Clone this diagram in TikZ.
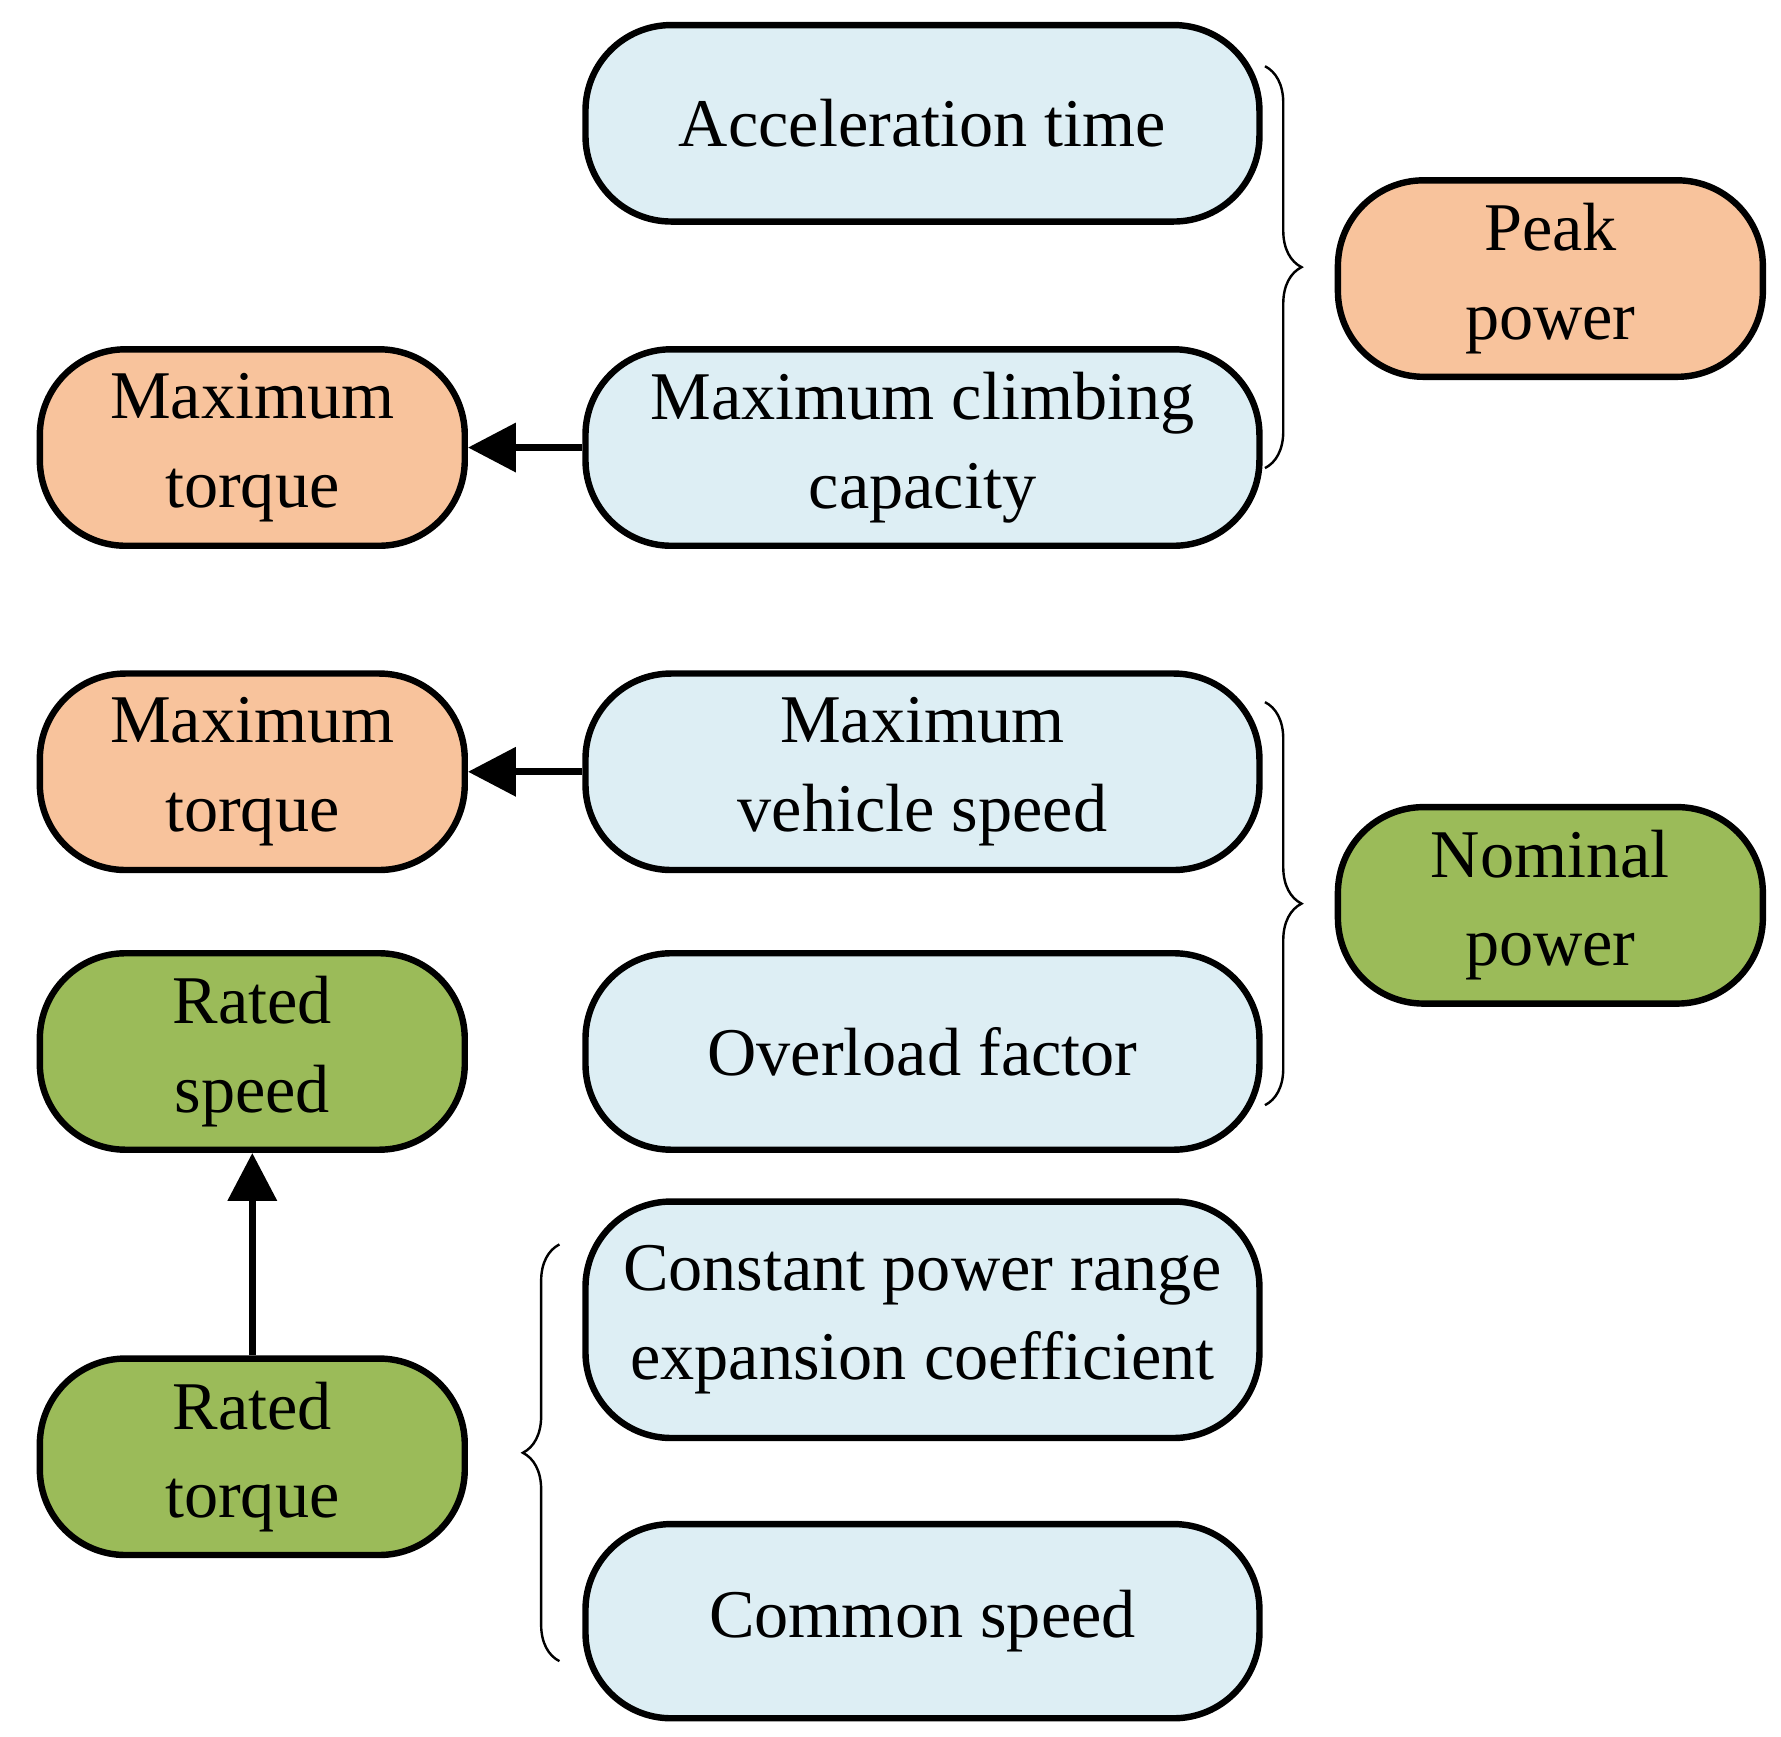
\documentclass[tikz,border=0pt]{standalone}
\usepackage{fontspec}
\setmainfont{Liberation Serif}
\usetikzlibrary{decorations.pathreplacing,arrows.meta}
\definecolor{blue1}{HTML}{DDEEF4}
\definecolor{orange1}{HTML}{F8C39C}
\definecolor{green1}{HTML}{9BBB59}
\tikzset{
    box/.style={draw, line width=1.6pt, rounded corners=0.75cm, align=center,
        font=\fontsize{17}{22}\selectfont, inner sep=0pt},
    wide/.style={box, fill=blue1, minimum width=5.9cm, minimum height=1.72cm},
    small/.style={box, minimum width=3.72cm, minimum height=1.72cm},
    brc/.style={decorate, decoration={brace, amplitude=0.32cm}, line width=0.6pt},
    arr/.style={line width=1.8pt, -{Triangle[length=0.42cm, width=0.42cm]}}
}
\begin{document}
\begin{tikzpicture}[x=0.01cm, y=-0.01cm]
    \useasboundingbox (0,0) rectangle (1560,1521);
    \node[wide] (acc) at (808,108)
            {Acceleration time};
    \node[wide] (climb) at (808,392)
            {Maximum climbing\\capacity};
    \node[small, fill=orange1] (peak) at (1358,244)
            {Peak\\power};
    \node[small, fill=orange1] (torque1) at (221,392)
            {Maximum\\torque};
    \node[wide] (vspeed) at (808,676)
            {Maximum\\vehicle speed};
    \node[small, fill=orange1] (torque2) at (221,676)
            {Maximum\\torque};
    \node[small, fill=green1] (nominal) at (1358,793)
            {Nominal\\power};
    \node[small, fill=green1] (rspeed) at (221,921)
            {Rated\\speed};
    \node[wide] (overload) at (808,921)
            {Overload factor};
    \node[wide, minimum height=2.07cm] (const) at (808,1156)
            {Constant power range\\expansion coefficient};
    \node[small, fill=green1] (rtorque) at (221,1276)
            {Rated\\torque};
    \node[wide, minimum height=1.7cm] (common) at (808,1420)
            {Common speed};
    \draw[arr] (climb) -- (torque1);
    \draw[arr] (vspeed) -- (torque2);
    \draw[arr] (rtorque) -- (rspeed);
    \coordinate (b1a) at (1108,58);
    \coordinate (b1b) at (1108,410);
    \coordinate (b2a) at (1108,615);
    \coordinate (b2b) at (1108,968);
    \coordinate (b3a) at (490,1455);
    \coordinate (b3b) at (490,1090);
    \draw[brc] (b1a) -- (b1b);
    \draw[brc] (b2a) -- (b2b);
    \draw[brc] (b3a) -- (b3b);
\end{tikzpicture}
\end{document}
